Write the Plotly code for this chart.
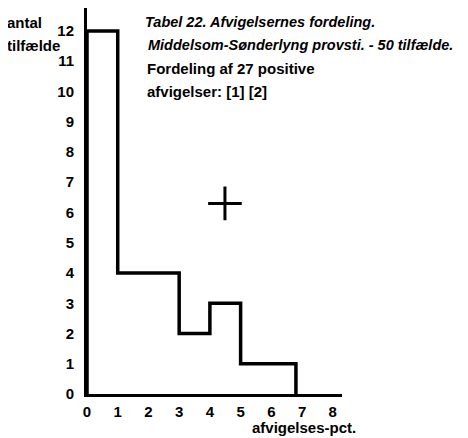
import plotly.graph_objects as go

# Data
bin_edges = [0, 1, 3, 4, 5, 6.8]
counts = [12, 4, 2, 3, 1]
x_ticks = [0, 1, 2, 3, 4, 5, 6, 7, 8]
y_ticks = [0, 1, 2, 3, 4, 5, 6, 7, 8, 9, 10, 11, 12]
cross_point = (4.49, 6.3)

# Build step outline from data
xs = [bin_edges[0]] + bin_edges[:-1] + [bin_edges[-1]]
ys = [0] + counts + [0]

FONT = "Liberation Sans"

fig = go.Figure()
fig.add_trace(go.Scatter(x=xs, y=ys, mode="lines", line=dict(color="black", width=3.5, shape="hv"),
                         hoverinfo="skip", showlegend=False))
fig.add_trace(go.Scatter(x=[cross_point[0]], y=[cross_point[1]], mode="markers",
                         marker=dict(symbol="cross-thin", size=24, line=dict(color="black", width=3)),
                         showlegend=False, hoverinfo="skip"))

fig.update_layout(
    width=460, height=430,
    margin=dict(l=79, r=126, t=0, b=44),
    paper_bgcolor="white", plot_bgcolor="white",
    font=dict(family=FONT, color="black", size=15),
    xaxis=dict(range=[0, 8.3], tickvals=x_ticks, ticktext=[f"<b>{t}</b>" for t in x_ticks],
               showgrid=False, zeroline=False, showline=True, linecolor="black", linewidth=3,
               ticks="", ticklabelstandoff=2),
    yaxis=dict(range=[0, 12.76], tickvals=y_ticks, ticktext=[f"<b>{t}</b>" for t in y_ticks],
               showgrid=False, zeroline=False, showline=True, linecolor="black", linewidth=3,
               ticks="", ticklabelstandoff=7),
)

def px(x):
    return (x - 87) / 255

def py(y):
    return (394 - y) / 386

anns = [
    ("<b>antal</b>", 5, 22, 15),
    ("<b>tilfælde</b>", 5, 45, 15),
    ("<b><i>Tabel 22. Afvigelsernes fordeling.</i></b>", 143, 22, 14.5),
    ("<b><i>Middelsom-Sønderlyng provsti. - 50 tilfælde.</i></b>", 146, 45, 14.5),
    ("<b>Fordeling af 27 positive</b>", 145, 68, 15),
    ("<b>afvigelser: [1] [2]</b>", 145, 91, 15),
    ("<b>afvigelses-pct.</b>", 250, 427, 15),
]
for text, x, y, size in anns:
    fig.add_annotation(text=text, xref="paper", yref="paper", x=px(x), y=py(y),
                       xanchor="left", yanchor="middle", showarrow=False,
                       font=dict(family=FONT, size=size, color="black"))

fig.write_html("out.html")
